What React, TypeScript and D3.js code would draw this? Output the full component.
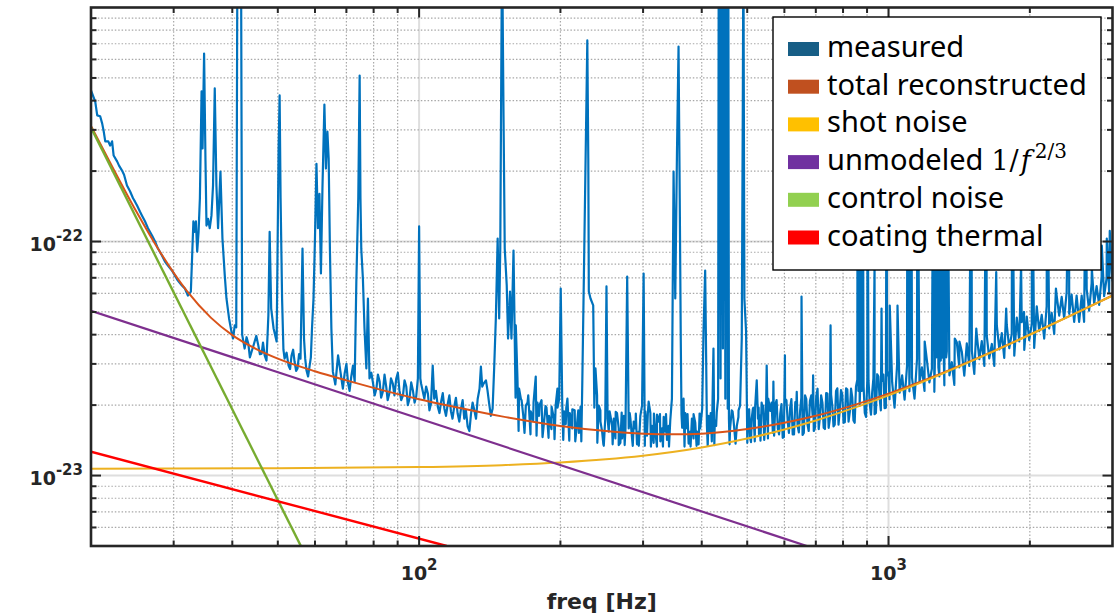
import React from "react";
import * as d3 from "d3";

const W = 1119;
const H = 616;
const PLOT = { left: 91, right: 1112.5, top: 7.5, bottom: 546 };

// Amplitude spectral densities are listed in units of 1e-23 /sqrt(Hz)
const UNIT = 1e-23;

// Measured spectrum, 20-65 Hz: [frequency Hz, ASD]
const measuredLow: [number, number][] = [
  [20.0, 44.2], [20.42, 39.6], [20.62, 34.6], [20.92, 34.3], [21.13, 31.9], [21.29, 29.5],
  [21.45, 26.8], [21.77, 26.8], [21.97, 25.7], [22.18, 26.8], [22.35, 23.3], [22.73, 22.0],
  [22.95, 21.1], [23.29, 20.1], [23.52, 19.3], [23.86, 17.35], [24.22, 16.4], [24.58, 15.3],
  [24.82, 14.8], [25.07, 14.25], [25.44, 13.4], [25.69, 12.9], [26.06, 12.2], [26.45, 11.4],
  [26.98, 10.6], [27.38, 10.0], [27.78, 9.33], [28.33, 8.71], [28.75, 8.21], [29.17, 7.9],
  [29.75, 7.52], [30.19, 7.15], [30.63, 6.81], [31.24, 6.49], [31.7, 6.3], [32.17, 5.88],
  [32.64, 6.11], [33.05, 12.2], [33.21, 11.0], [33.46, 12.2], [33.67, 9.06], [33.9, 11.0],
  [34.12, 15.3], [34.4, 43.8], [34.57, 25.0], [34.83, 63.6], [35.07, 22.0], [35.24, 11.7],
  [35.51, 12.5], [35.81, 11.4], [36.11, 12.9], [36.39, 17.35], [36.7, 45.1], [37.0, 17.35],
  [37.3, 11.4], [37.74, 19.9], [38.11, 10.3], [38.55, 7.15], [38.87, 5.71], [39.37, 4.69],
  [39.83, 4.12], [40.15, 3.85], [40.48, 4.38], [40.78, 4.3], [41.02, 200], [41.74, 200],
  [41.98, 4.0], [42.49, 3.49], [43.27, 3.66], [43.98, 3.39], [44.63, 3.74], [45.45, 3.59],
  [46.19, 3.32], [46.88, 3.26], [47.74, 4.83], [48.04, 11.0], [48.4, 5.17], [48.98, 4.25],
  [49.71, 3.74], [50.2, 25.0], [50.45, 42.1], [50.69, 15.3], [51.06, 5.71], [51.69, 3.16],
  [52.71, 2.95], [53.49, 3.26], [54.28, 3.07], [55.08, 2.87], [55.89, 3.16], [56.44, 9.33],
  [56.86, 3.85], [57.56, 2.81], [58.41, 2.92], [59.13, 4.25], [59.57, 5.71], [60.0, 10.3],
  [60.44, 21.5], [60.88, 11.4], [61.33, 16.0], [61.78, 7.3], [62.24, 16.8], [62.84, 38.5],
  [63.31, 20.5], [63.77, 29.5], [64.17, 22.6], [64.56, 9.33], [65.03, 4.25],
];

// Extra floor samples between the ones above, 42-143 Hz
const measuredLowFill: [number, number][] = [
  [42.9, 3.9], [43.6, 3.2], [44.3, 3.55], [45.0, 3.95], [45.8, 3.3], [46.5, 3.7], [47.3, 3.1],
  [51.4, 3.45], [52.2, 3.35], [53.1, 2.85], [53.9, 3.45], [54.7, 2.8], [55.5, 3.3], [57.2, 3.15],
  [58.0, 2.65], [58.8, 3.2], [66.3, 2.45], [67.7, 2.95], [68.8, 2.35], [70.0, 3.0], [71.1, 2.3],
  [72.3, 2.95], [79.1, 2.75], [80.4, 2.2], [81.7, 2.7], [83.0, 2.15], [84.4, 2.7], [85.7, 2.1],
  [87.1, 2.6], [88.6, 2.2], [90.1, 2.75], [91.6, 2.1], [93.1, 2.55], [94.6, 2.0], [96.2, 2.5],
  [97.8, 2.05], [103.5, 2.4], [105.2, 1.9], [108.6, 2.3], [110.5, 1.85], [112.3, 2.25],
  [114.1, 1.8], [116.0, 2.2], [117.8, 1.75], [119.8, 2.15], [121.8, 1.7], [123.8, 2.1],
  [125.8, 1.9], [128.0, 1.55], [130.0, 2.05], [132.2, 1.75], [139.9, 2.3], [142.2, 1.8],
];

// Measured spectrum, 65-555 Hz
const measuredMid: [number, number][] = [
  [65.5, 2.78], [67.2, 3.26], [68.3, 2.6], [69.4, 2.73], [70.6, 2.47], [71.7, 2.65],
  [72.9, 2.52], [73.5, 6.75], [74.2, 15.3], [74.7, 51.2], [75.0, 15.3], [75.3, 9.3],
  [75.9, 6.95], [76.5, 4.25], [77.2, 2.87], [77.8, 5.71], [78.4, 2.6], [79.8, 2.47],
  [81.1, 2.35], [82.4, 2.52], [83.7, 2.28], [85.1, 2.4], [86.4, 2.24], [87.9, 2.47],
  [89.4, 2.6], [90.8, 2.31], [92.4, 2.2], [93.9, 2.4], [95.4, 2.13], [97.0, 2.31],
  [98.6, 2.18], [99.4, 2.6], [100.0, 11.6], [100.6, 2.6], [101.0, 2.47], [102.6, 2.13],
  [104.4, 2.24], [106.0, 2.03], [106.9, 2.95], [107.7, 2.13], [109.6, 1.97], [111.4, 2.07],
  [113.2, 1.93], [115.1, 2.03], [116.9, 1.88], [118.8, 1.97], [120.8, 1.84], [122.8, 1.93],
  [124.8, 1.75], [126.9, 1.62], [129.0, 1.84], [131.1, 1.9], [133.3, 2.13], [134.5, 2.35],
  [135.4, 2.92], [136.3, 2.4], [137.2, 2.47], [138.8, 2.55], [141.0, 2.03], [143.4, 1.93],
  [144.5, 2.87], [145.7, 4.69], [147.0, 10.3], [148.1, 4.69], [148.9, 9.33], [150.2, 200],
  [151.3, 34.2], [152.2, 9.33], [153.7, 6.49], [154.7, 3.85], [156.2, 6.11], [157.3, 3.85],
  [158.9, 9.15], [160.7, 4.38], [162.0, 2.6], [163.3, 2.35], [164.7, 2.13], [166.7, 1.8],
  [168.8, 1.99], [170.8, 2.2], [172.9, 1.88], [175.0, 1.72], [177.2, 2.65], [178.7, 2.05],
  [180.1, 1.8], [182.3, 2.1], [184.6, 1.7], [186.8, 1.95], [189.1, 1.8], [191.4, 1.58],
  [193.8, 1.75], [195.4, 2.0], [197.1, 2.35], [198.8, 2.13], [200.3, 6.3], [201.8, 2.03],
  [203.6, 1.88], [205.3, 1.66], [207.0, 2.13], [209.4, 1.85], [211.9, 1.59], [214.5, 1.9],
  [217.2, 1.7], [219.0, 1.52], [220.8, 1.97], [222.6, 2.42], [224.4, 7.15], [227.0, 34.6],
  [228.2, 72.3], [229.3, 22.6], [229.9, 6.11], [231.8, 5.71], [234.9, 5.33], [237.5, 2.87],
  [239.4, 2.2], [241.4, 1.99], [243.4, 1.7], [245.4, 1.54], [247.4, 1.34], [249.2, 1.75],
  [250.7, 6.43], [252.1, 1.75], [253.5, 1.54], [255.6, 1.8], [257.7, 1.63], [259.8, 1.75],
  [261.9, 1.44], [264.0, 1.85], [266.2, 1.59], [268.4, 1.38], [270.7, 1.44], [273.0, 1.8],
  [275.2, 1.59], [277.5, 7.09], [279.6, 1.59], [281.9, 1.75], [284.2, 1.44], [286.5, 1.7],
  [288.9, 1.59], [291.2, 1.36], [293.6, 1.54], [296.0, 1.8], [298.5, 1.99], [300.8, 7.3],
  [303.3, 1.88], [305.8, 1.48], [308.3, 2.07], [310.9, 1.85], [313.5, 1.63], [316.0, 1.38],
  [318.6, 1.54], [321.2, 1.82], [323.8, 1.7], [326.5, 1.4], [329.2, 1.59], [331.9, 1.78],
  [334.6, 1.54], [337.3, 1.42], [340.0, 1.63], [342.8, 1.72], [345.6, 2.13], [348.4, 19.9],
  [351.3, 5.71], [354.3, 24.5], [357.0, 68.1], [359.1, 15.3], [360.9, 3.85], [363.4, 1.6],
  [365.9, 2.13], [369.0, 1.85], [372.1, 1.59], [375.1, 1.37], [378.1, 1.54], [381.2, 1.75],
  [384.3, 1.44], [387.5, 1.68], [390.8, 1.54], [393.9, 1.36], [397.0, 1.59], [399.0, 1.75],
  [400.9, 1.93], [403.5, 4.12], [406.8, 7.52], [410.3, 1.63], [413.6, 1.8], [416.9, 1.54],
  [420.3, 1.4], [423.7, 3.49], [426.5, 1.72], [429.3, 1.63], [433.5, 2.13], [434.8, 200],
  [436.1, 5.71], [437.4, 200], [438.7, 2.6], [440.0, 200], [441.3, 8.46], [442.5, 200],
  [443.8, 3.49], [445.1, 200], [446.5, 5.71], [447.8, 200], [449.1, 2.13], [450.4, 200],
  [451.7, 4.25], [453.0, 200], [454.4, 1.93], [455.7, 200], [457.1, 1.75], [459.7, 1.59],
  [463.4, 1.9], [467.2, 1.75], [471.1, 1.45], [475.1, 1.63], [478.9, 1.78], [482.8, 1.99],
  [486.8, 3.85], [489.2, 35.9], [490.7, 200], [493.1, 5.71], [497.2, 4.12], [502.8, 1.88],
  [507.0, 1.45], [511.1, 1.75], [515.3, 1.95], [519.5, 1.93], [523.9, 2.55], [527.1, 1.75],
  [529.7, 1.5], [532.3, 1.8], [536.6, 2.05], [541.0, 1.99], [545.5, 1.6], [550.1, 2.95],
  [554.3, 2.13],
];

// Extra floor samples, 160 Hz - 1 kHz (upper and lower edges of the noise band)
const measuredMidFill: [number, number][] = [
  [160.5, 2.15], [162.9, 1.55], [165.3, 2.1], [167.7, 1.52], [170.2, 2.05], [172.7, 1.5],
  [175.3, 2.05], [177.9, 1.48], [180.5, 2.0], [183.2, 1.46], [185.9, 1.98], [188.7, 1.45],
  [191.5, 1.97], [194.3, 1.43], [197.2, 1.95], [202.8, 1.42], [205.8, 1.94], [208.9, 1.41],
  [212.0, 1.92], [215.1, 1.4], [218.3, 1.9], [221.6, 1.4], [236.2, 1.95], [239.7, 1.38],
  [243.3, 1.9], [246.9, 1.36], [254.6, 1.88], [258.4, 1.36], [262.3, 1.87], [266.2, 1.35],
  [270.1, 1.86], [274.1, 1.35], [281.0, 1.85], [285.2, 1.34], [289.5, 1.84], [293.8, 1.34],
  [302.6, 1.34], [307.1, 1.84], [311.7, 1.33], [316.4, 1.84], [321.1, 1.33], [325.9, 1.83],
  [330.7, 1.33], [335.7, 1.83], [340.7, 1.33], [362.2, 1.83], [367.6, 1.33], [373.1, 1.83],
  [378.7, 1.33], [384.3, 1.83], [390.0, 1.34], [395.8, 1.84], [411.9, 1.34], [418.0, 1.85],
  [425.5, 1.35], [430.6, 1.86], [458.5, 1.36], [465.3, 1.88], [472.2, 1.37], [479.2, 1.9],
  [500.2, 1.38], [504.8, 1.92], [509.4, 1.39], [514.1, 1.93], [518.9, 1.4], [528.8, 1.95],
  [533.6, 1.41], [538.5, 1.97], [543.5, 1.42], [548.5, 1.98], [553.5, 1.44], [557.5, 2.0],
  [563.5, 2.05], [570.5, 1.48], [577.5, 2.1], [584.5, 1.5], [591.5, 2.02], [598.5, 1.46],
  [606, 2.1], [613.5, 1.52], [621, 2.12], [629, 1.5], [636.5, 2.05], [644, 1.53], [652, 2.15],
  [660, 1.52], [668, 2.12], [676, 1.55], [684.5, 2.2], [693, 1.55], [701.5, 2.18], [710, 1.58],
  [718.5, 2.2], [727.5, 1.6], [736.5, 2.25], [745.5, 1.6], [754.5, 2.22], [763.5, 1.62],
  [773, 2.3], [782.5, 1.65], [792, 2.32], [802, 1.68], [812, 2.36], [822, 1.7], [832, 2.35],
  [842, 1.72], [852.5, 2.4], [895.5, 1.78], [906.5, 2.55], [917.5, 1.82], [928.5, 2.6],
  [940, 1.85], [951.5, 2.65], [963, 1.9], [975, 2.7], [987, 1.95], [999, 2.75],
];

// Measured noise floor, 560 Hz - 3 kHz
const measuredHigh: [number, number][] = [
  [560, 1.89], [567, 1.52], [574, 2.01], [581, 1.59], [588, 1.84], [595, 1.45], [602, 2.13],
  [610, 1.69], [617, 1.94], [625, 1.5], [633, 2.06], [640, 1.64], [648, 1.88], [656, 1.49],
  [664, 2.2], [672, 1.65], [680, 2.08], [689, 1.81], [697, 1.6], [706, 2.35], [714, 1.77],
  [723, 2.05], [732, 1.58], [741, 2.24], [750, 1.75], [759, 1.98], [768, 1.65], [778, 2.36],
  [787, 1.89], [797, 2.22], [807, 1.69], [817, 2.33], [827, 1.87], [837, 2.16], [847, 1.68],
  [858, 2.57], [868, 1.99], [879, 2.32], [890, 1.85], [901, 2.54], [912, 2.02], [923, 2.27],
  [934, 1.83], [946, 2.71], [957, 2.15], [969, 2.54], [981, 1.94], [993, 2.68], [1005, 2.12],
  [1018, 2.5], [1030, 1.95], [1043, 2.98], [1056, 2.26], [1069, 2.68], [1082, 2.11],
  [1095, 2.94], [1108, 2.29], [1122, 2.62], [1136, 2.13], [1150, 3.15], [1164, 2.5],
  [1178, 2.9], [1193, 2.3], [1207, 3.11], [1222, 2.5], [1237, 2.86], [1252, 2.28],
  [1268, 3.35], [1283, 2.65], [1299, 3.19], [1315, 2.43], [1331, 3.4], [1348, 2.68],
  [1364, 3.05], [1381, 2.44], [1398, 3.71], [1415, 2.9], [1433, 3.37], [1450, 2.67],
  [1468, 3.67], [1486, 2.94], [1505, 3.41], [1523, 2.72], [1542, 3.98], [1561, 3.14],
  [1580, 3.75], [1600, 2.94], [1619, 3.96], [1639, 3.17], [1660, 3.65], [1680, 2.94],
  [1701, 4.38], [1722, 3.46], [1743, 4.06], [1764, 3.18], [1786, 4.4], [1808, 3.5],
  [1830, 4.02], [1853, 3.25], [1876, 4.73], [1899, 3.74], [1922, 4.52], [1946, 3.44],
  [1970, 4.78], [1994, 3.79], [2019, 4.44], [2043, 3.51], [2069, 5.29], [2094, 4.14],
  [2120, 4.86], [2146, 3.85], [2172, 5.28], [2199, 4.25], [2226, 4.96], [2254, 4.03],
  [2281, 5.89], [2310, 4.82], [2338, 5.8], [2367, 4.7], [2396, 6.08], [2426, 4.91],
  [2455, 5.93], [2486, 4.53], [2516, 5.88], [2547, 4.54], [2579, 5.87], [2610, 4.54],
  [2643, 6.26], [2675, 5.07], [2708, 6.62], [2742, 5.41], [2775, 6.45], [2810, 5.36],
  [2844, 7.06], [2879, 5.84], [2915, 7.0], [2951, 6.09], [2990, 7.34], [3000, 6.76],
];

// Spectral lines above 560 Hz (peak ASD)
const measuredHighLines: [number, number][] = [
  [568.5, 2.52], [601.6, 3.26], [637.5, 2.28], [652.6, 5.82], [690.8, 2.68], [752.5, 4.38],
  [859.4, 40], [862.5, 2.3], [866.5, 45], [870.5, 2.5], [874, 35], [877.5, 2.3], [881, 40],
  [884.9, 2.4], [902.3, 30], [933.8, 8], [966.3, 5.17], [990.2, 30], [1006, 5.33],
  [1045, 5.33], [1097, 30], [1119, 25], [1152, 40], [1194, 3.74], [1246, 40], [1255, 3.0],
  [1260, 40], [1265, 3.2], [1271, 40], [1277, 2.9], [1287, 40], [1292, 3.1], [1296, 40],
  [1304, 3.3], [1308, 40], [1312, 3.0], [1321, 40], [1327, 3.2], [1334, 40], [1384, 3.85],
  [1416, 3.74], [1501, 35], [1538, 4.25], [1615, 30], [1696, 7.4], [1781, 5.17], [1834, 30],
  [1916, 8], [1944, 5.0], [2022, 30], [2177, 30], [2273, 6.3], [2423, 30], [2633, 30],
  [2711, 7.67], [2847, 9.6], [2917, 10.3], [2960, 11.1],
];

// Noise budget curves
const totalHz = [20, 22, 25, 28, 32, 36, 40, 45, 50, 60, 70, 80, 100, 120, 150, 200, 250, 300,
  350, 400, 500, 600, 700, 850, 1000, 1300, 1600, 2000, 2500, 3000];
const totalAsd = [31.2, 21.6, 13.4, 9.09, 6.15, 4.73, 3.98, 3.47, 3.16, 2.79, 2.55, 2.37, 2.12,
  1.96, 1.79, 1.63, 1.55, 1.51, 1.5, 1.51, 1.58, 1.68, 1.8, 2.01, 2.24, 2.74, 3.27, 4.0, 4.93, 5.88];

const shotHz = [20, 50, 100, 150, 200, 250, 300, 400, 500, 600, 700, 850, 1000, 1300, 1600,
  2000, 2500, 3000];
const shotAsd = [1.07, 1.074, 1.087, 1.108, 1.137, 1.173, 1.216, 1.318, 1.439, 1.574, 1.72,
  1.955, 2.202, 2.721, 3.26, 3.995, 4.929, 5.872];

const unmodeledHz = [20, 670];
const unmodeledAsd = [5.06, 0.5];

const controlHz = [20, 60];
const controlAsd = [30.7, 0.379];

const coatingHz = [20, 114.5];
const coatingAsd = [1.265, 0.5];

// Axis ticks
const xMajor = [100, 1000];
const xMajorExp = ["2", "3"];
const xMinor = [30, 40, 50, 60, 70, 80, 90, 200, 300, 400, 500, 600, 700, 800, 900, 2000];
const yMajor = [1e-23, 1e-22];
const yMajorExp = ["-23", "-22"];
const yMinor = [6e-24, 7e-24, 8e-24, 9e-24, 2e-23, 3e-23, 4e-23, 5e-23, 6e-23, 7e-23, 8e-23,
  9e-23, 2e-22, 3e-22, 4e-22, 5e-22, 6e-22, 7e-22, 8e-22, 9e-22];

const legendLabels = ["measured", "total reconstructed", "shot noise", "unmodeled", "control noise", "coating thermal"];
const legendSwatches = ["#175E86", "#C0501F", "#FFC000", "#7030A0", "#92D050", "#FF0000"];

const AXIS = "#262626";
const TICK_FONT = "'DejaVu Sans', sans-serif";
const LEGEND_FONT = "'Noto Sans', 'Open Sans', sans-serif";
const MATH_FONT = "'DejaVu Serif', serif";

type Pt = [number, number];

export default function App() {
  const x = d3.scaleLog().domain([20, 3000]).range([PLOT.left, PLOT.right]);
  const y = d3.scaleLog().domain([5e-24, 1e-21]).range([PLOT.bottom, PLOT.top]);

  const pairs = (hz: number[], asd: number[]): Pt[] => hz.map((f, i) => [f, asd[i] * UNIT]);
  const scaled = (arr: Pt[]): Pt[] => arr.map(([f, v]) => [f, v * UNIT]);

  const measured = scaled([
    ...measuredLow, ...measuredLowFill, ...measuredMid, ...measuredMidFill,
    ...measuredHigh, ...measuredHighLines,
  ]).sort((a, b) => a[0] - b[0]);

  const straight = d3.line<Pt>().x((d) => x(d[0])).y((d) => y(d[1]));
  const smooth = d3.line<Pt>().x((d) => x(d[0])).y((d) => y(d[1])).curve(d3.curveMonotoneX);

  const series = [
    { d: straight(measured), color: "#0072BD", w: 2.2 },
    { d: smooth(pairs(totalHz, totalAsd)), color: "#D95319", w: 2 },
    { d: smooth(pairs(shotHz, shotAsd)), color: "#EDB120", w: 2 },
    { d: straight(pairs(unmodeledHz, unmodeledAsd)), color: "#7E2F8E", w: 2.2 },
    { d: straight(pairs(controlHz, controlAsd)), color: "#77AC30", w: 2.4 },
    { d: straight(pairs(coatingHz, coatingAsd)), color: "#FF0000", w: 2.4 },
  ];

  const L = PLOT.left, R = PLOT.right, T = PLOT.top, B = PLOT.bottom;
  const majorLen = 10;
  const minorLen = 5.5;

  const legend = { x: 773, y: 17, w: 328, h: 253, row: 37.7 };

  return (
    <svg width={W} height={H} style={{ position: "absolute", left: 0, top: 0, background: "#fff" }}>
      <defs>
        <clipPath id="plot-area">
          <rect x={L} y={T} width={R - L} height={B - T} />
        </clipPath>
      </defs>

      {/* major grid */}
      <g stroke="#dedede" strokeWidth={2}>
        {xMajor.map((f) => (
          <line key={"gx" + f} x1={x(f)} x2={x(f)} y1={T} y2={B} />
        ))}
        {yMajor.map((v) => (
          <line key={"gy" + v} x1={L} x2={R} y1={y(v)} y2={y(v)} />
        ))}
      </g>
      {/* minor grid */}
      <g stroke="#a8a8a8" strokeWidth={1.2} strokeDasharray="1.5 1.9">
        {xMinor.map((f) => (
          <line key={"mx" + f} x1={x(f)} x2={x(f)} y1={T} y2={B} />
        ))}
        {[...yMinor, 1e-22].map((v) => (
          <line key={"my" + v} x1={L} x2={R} y1={y(v)} y2={y(v)} />
        ))}
      </g>

      {/* data */}
      <g clipPath="url(#plot-area)" fill="none" strokeLinejoin="round">
        {series.map((s, i) => (
          <path key={i} d={s.d || ""} stroke={s.color} strokeWidth={s.w} />
        ))}
      </g>

      {/* axes box and ticks */}
      <g stroke={AXIS} strokeWidth={2}>
        {xMajor.map((f) => (
          <g key={"tx" + f}>
            <line x1={x(f)} x2={x(f)} y1={B} y2={B - majorLen} />
            <line x1={x(f)} x2={x(f)} y1={T} y2={T + majorLen} />
          </g>
        ))}
        {xMinor.map((f) => (
          <g key={"tmx" + f}>
            <line x1={x(f)} x2={x(f)} y1={B} y2={B - minorLen} />
            <line x1={x(f)} x2={x(f)} y1={T} y2={T + minorLen} />
          </g>
        ))}
        {yMajor.map((v) => (
          <g key={"ty" + v}>
            <line x1={L} x2={L + majorLen} y1={y(v)} y2={y(v)} />
            <line x1={R} x2={R - majorLen} y1={y(v)} y2={y(v)} />
          </g>
        ))}
        {yMinor.map((v) => (
          <g key={"tmy" + v}>
            <line x1={L} x2={L + minorLen} y1={y(v)} y2={y(v)} />
            <line x1={R} x2={R - minorLen} y1={y(v)} y2={y(v)} />
          </g>
        ))}
      </g>
      <rect x={L} y={T} width={R - L} height={B - T} fill="none" stroke={AXIS} strokeWidth={2.6} />

      {/* tick labels */}
      <g fontFamily={TICK_FONT} fontWeight="bold" fill="#262626">
        {xMajor.map((f, i) => (
          <text key={"lx" + f} x={x(f)} y={580} textAnchor="middle" fontSize={19}>
            10
            <tspan fontSize={15} dy={-10}>{xMajorExp[i]}</tspan>
          </text>
        ))}
        {yMajor.map((v, i) => (
          <text key={"ly" + v} x={83} y={y(v) + 9} textAnchor="end" fontSize={19}>
            10
            <tspan fontSize={15} dy={-10}>{yMajorExp[i]}</tspan>
          </text>
        ))}
        <text x={(L + R) / 2} y={609} textAnchor="middle" fontSize={22}>
          freq [Hz]
        </text>
      </g>

      {/* legend */}
      <g>
        <rect x={legend.x} y={legend.y} width={legend.w} height={legend.h} fill="#fff" stroke="#000" strokeWidth={1.4} />
        {legendLabels.map((label, i) => {
          const top = 42 + i * legend.row;
          return (
            <g key={label}>
              <rect x={788} y={top} width={31} height={14} fill={legendSwatches[i]} />
              <text x={827} y={top + 15} fontFamily={LEGEND_FONT} fontSize={29} fill="#000">
                {label}
                {label === "unmodeled" ? (
                  <>
                    <tspan dx={8} fontFamily={MATH_FONT} fontSize={27}>1</tspan>
                    <tspan dx={1} fontFamily={MATH_FONT} fontSize={27}>/</tspan>
                    <tspan dx={2} fontFamily={MATH_FONT} fontSize={27} fontStyle="italic">f</tspan>
                    <tspan dx={4} dy={-12} fontFamily={MATH_FONT} fontSize={20}>2/3</tspan>
                  </>
                ) : null}
              </text>
            </g>
          );
        })}
      </g>
    </svg>
  );
}
